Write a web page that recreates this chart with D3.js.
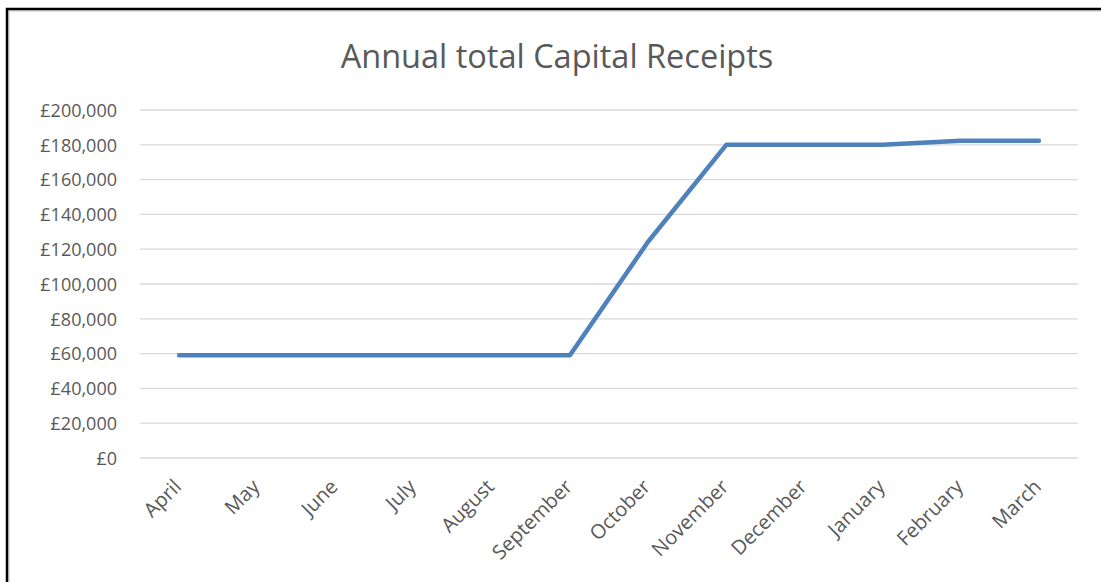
<!DOCTYPE html>
<html>
<head>
<meta charset="utf-8">
<script src="https://cdn.jsdelivr.net/npm/d3@7"></script>
<style>
 body { margin: 0; background: #fff; }
 text { font-family: "Open Sans", sans-serif; fill: #595959; }
</style>
</head>
<body>
<div class="chart"></div>
<script>
var months = ["April", "May", "June", "July", "August", "September",
  "October", "November", "December", "January", "February", "March"];
var receipts = [59000, 59000, 59000, 59000, 59000, 59000,
  124300, 180000, 180000, 180000, 182300, 182300];
var yTicks = [0, 20000, 40000, 60000, 80000, 100000, 120000, 140000, 160000, 180000, 200000];
var title = "Annual total Capital Receipts";

var w = 1101;
var h = 582;
var svg = d3.select(".chart").append("svg").attr("width", w).attr("height", h);

// frame (only left + top edges visible in the shot)
svg.append("path").attr("d", "M9,582 V11 H1101").attr("fill", "none")
  .attr("stroke", "#d9d9d9").attr("stroke-width", 1.5);
svg.append("path").attr("d", "M7,582 V9 H1101").attr("fill", "none")
  .attr("stroke", "#000").attr("stroke-width", 2.5);

var x = d3.scalePoint().domain(months).range([140, 1078]).padding(0.5);
var y = d3.scaleLinear().domain([0, 200000]).range([458, 110]);

// gridlines
svg.append("g").selectAll("line")
  .data(yTicks)
  .enter()
  .append("line")
  .attr("x1", 140).attr("x2", 1078)
  .attr("y1", function(d){ return y(d); })
  .attr("y2", function(d){ return y(d); })
  .attr("stroke", "#d9d9d9")
  .attr("stroke-width", 1.3);

// y axis labels
var fmt = d3.format(",");
var yAxis = d3.axisLeft(y).tickValues(yTicks).tickSize(0).tickPadding(0)
  .tickFormat(function(d){ return "£" + fmt(d); });
var gy = svg.append("g").attr("transform", "translate(117,0)").call(yAxis);
gy.select(".domain").remove();
gy.selectAll("text").attr("font-size", 18).attr("fill", "#595959")
  .attr("font-family", "Open Sans").attr("dy", "0.35em");

// x axis labels
var xAxis = d3.axisBottom(x).tickSize(0).tickPadding(0);
var gx = svg.append("g").attr("transform", "translate(0,458)").call(xAxis);
gx.select(".domain").remove();
gx.selectAll("text")
  .attr("font-size", 20).attr("fill", "#595959").attr("font-family", "Open Sans")
  .attr("text-anchor", "end")
  .attr("dy", 0).attr("y", 0)
  .attr("transform", "translate(3,30) rotate(-45)");

// line
var line = d3.line()
  .x(function(d, i){ return x(months[i]); })
  .y(function(d){ return y(d); });
svg.append("path")
  .datum(receipts)
  .attr("d", line)
  .attr("fill", "none")
  .attr("stroke", "#4f81bd")
  .attr("stroke-width", 4.5)
  .attr("stroke-linecap", "round")
  .attr("stroke-linejoin", "round");

// title
svg.append("text")
  .attr("x", 557).attr("y", 68)
  .attr("text-anchor", "middle")
  .attr("font-size", 32.5)
  .text(title);
</script>
</body>
</html>
